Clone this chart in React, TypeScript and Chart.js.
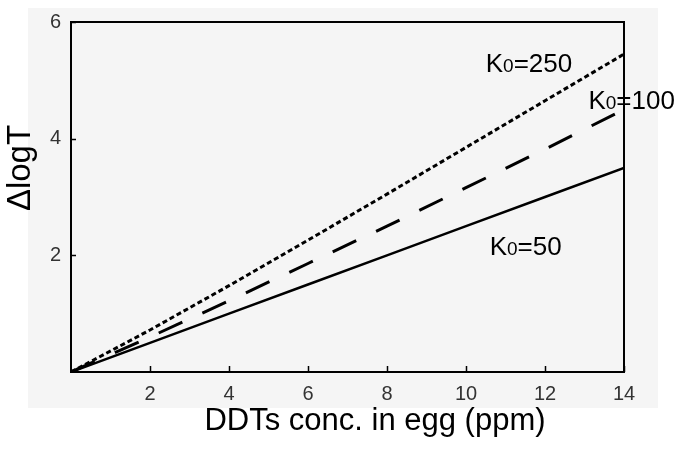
import React, { useEffect, useRef } from "react";
import { Chart, registerables } from "chart.js";

Chart.register(...registerables);

// ---- data ----
const concPpm = [0, 2, 4, 6, 8, 10, 12, 14];
const k50 = [0, 0.5, 1.0, 1.5, 2.0, 2.5, 3.0, 3.5];
const k100 = [0, 0.6, 1.22, 1.86, 2.5, 3.16, 3.82, 4.5];
const k250 = [0, 0.72, 1.48, 2.26, 3.05, 3.85, 4.65, 5.45];
const xTickValues = [2, 4, 6, 8, 10, 12, 14];
const yTickValues = [2, 4, 6];
const curveLabels = [
  { sub: "0", head: "K", tail: "=250", x: 10.5, y: 5.3 },
  { sub: "0", head: "K", tail: "=100", x: 13.1, y: 4.66 },
  { sub: "0", head: "K", tail: "=50", x: 10.6, y: 2.16 },
];
const xTitle = "DDTs conc. in egg (ppm)";
const yTitle = "\u0394logT";

const FONT = "'Liberation Sans', Arial, sans-serif";

const decorPlugin = {
  id: "decor",
  beforeDraw(chart: any) {
    const { ctx } = chart;
    ctx.save();
    ctx.fillStyle = "#f5f5f5";
    ctx.fillRect(28, 8, 630, 400);
    ctx.restore();
  },
  afterDatasetsDraw(chart: any) {
    const { ctx, chartArea, scales } = chart;
    const { left, right, top, bottom } = chartArea;
    ctx.save();
    ctx.strokeStyle = "#000";
    ctx.lineWidth = 2;
    ctx.strokeRect(left, top, right - left, bottom - top);
    ctx.lineWidth = 1.5;
    ctx.beginPath();
    xTickValues.forEach((v) => {
      const px = Math.round(scales.x.getPixelForValue(v)) + 0.5;
      ctx.moveTo(px, bottom);
      ctx.lineTo(px, bottom - 6);
    });
    yTickValues.forEach((v) => {
      const py = Math.round(scales.y.getPixelForValue(v)) + 0.5;
      ctx.moveTo(left, py);
      ctx.lineTo(left + 5, py);
    });
    ctx.stroke();

    // curve labels
    ctx.fillStyle = "#000";
    ctx.textBaseline = "alphabetic";
    ctx.textAlign = "left";
    curveLabels.forEach((l) => {
      let px = scales.x.getPixelForValue(l.x);
      const py = scales.y.getPixelForValue(l.y) + 9;
      ctx.font = `26px ${FONT}`;
      ctx.fillText(l.head, px, py);
      px += ctx.measureText(l.head).width;
      ctx.font = `19px ${FONT}`;
      ctx.fillText(l.sub, px, py);
      px += ctx.measureText(l.sub).width;
      ctx.font = `26px ${FONT}`;
      ctx.fillText(l.tail, px, py);
    });

    // axis titles
    ctx.font = `31px ${FONT}`;
    ctx.textAlign = "center";
    ctx.textBaseline = "middle";
    ctx.fillText(xTitle, 375, 421);
    ctx.font = `33px ${FONT}`;
    ctx.translate(21, 168);
    ctx.rotate(-Math.PI / 2);
    ctx.fillText(yTitle, 0, 0);
    ctx.restore();
  },
};

export default function App() {
  const canvasRef = useRef<HTMLCanvasElement | null>(null);

  useEffect(() => {
    document.body.style.margin = "0";
    const canvas = canvasRef.current;
    if (!canvas) return;
    const toPts = (ys: number[]) => concPpm.map((x, i) => ({ x, y: ys[i] }));
    const chart = new Chart(canvas, {
      type: "line",
      data: {
        datasets: [
          {
            label: "K0=50",
            data: toPts(k50),
            borderColor: "#000",
            borderWidth: 2.5,
            pointRadius: 0,
            tension: 0,
          },
          {
            label: "K0=100",
            data: toPts(k100),
            borderColor: "#000",
            borderWidth: 3,
            borderDash: [26, 22],
            pointRadius: 0,
            tension: 0,
          },
          {
            label: "K0=250",
            data: toPts(k250),
            borderColor: "#000",
            borderWidth: 3,
            borderDash: [5, 3],
            pointRadius: 0,
            tension: 0,
          },
        ],
      },
      options: {
        responsive: false,
        animation: false,
        devicePixelRatio: 1,
        layout: { padding: { left: 0, right: 61, top: 22, bottom: 0 } },
        plugins: { legend: { display: false }, tooltip: { enabled: false } },
        scales: {
          x: {
            type: "linear",
            min: 0,
            max: 14,
            grid: { display: false, drawTicks: false },
            border: { display: false },
            afterFit: (s: any) => {
              s.height = 78;
            },
            afterBuildTicks: (s: any) => {
              s.ticks = xTickValues.map((v) => ({ value: v }));
            },
            ticks: {
              color: "#333",
              padding: 10,
              maxRotation: 0,
              font: { family: FONT, size: 20 },
            },
          },
          y: {
            type: "linear",
            min: 0,
            max: 6,
            grid: { display: false, drawTicks: false },
            border: { display: false },
            afterFit: (s: any) => {
              s.width = 71;
            },
            afterBuildTicks: (s: any) => {
              s.ticks = yTickValues.map((v) => ({ value: v }));
            },
            ticks: {
              color: "#333",
              padding: 10,
              font: { family: FONT, size: 20 },
            },
          },
        },
      },
      plugins: [decorPlugin],
    });
    return () => chart.destroy();
  }, []);

  return (
    <div style={{ position: "absolute", left: 0, top: 0, width: 685, height: 450 }}>
      <canvas ref={canvasRef} width={685} height={450} />
    </div>
  );
}
